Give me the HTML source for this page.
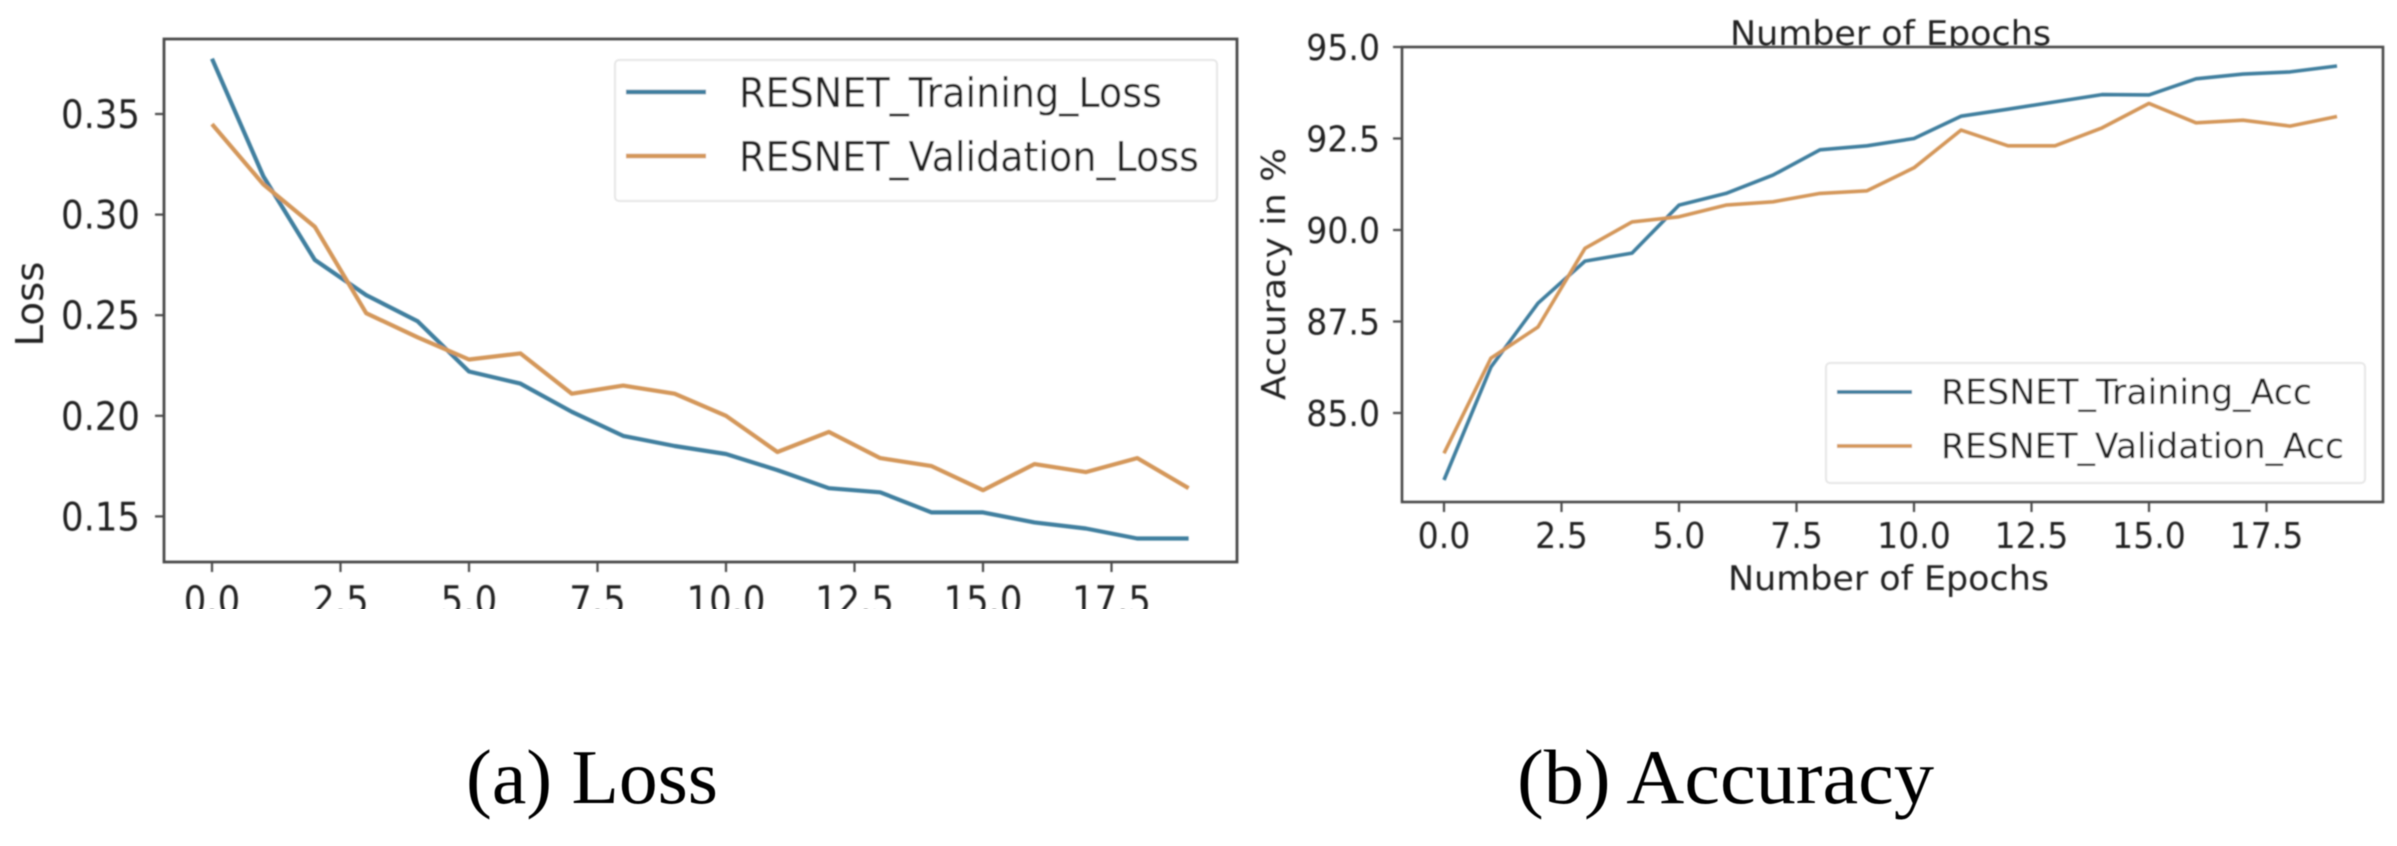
<!DOCTYPE html>
<html lang="en">
<head>
<meta charset="utf-8">
<title>ResNet loss and accuracy</title>
<style>
html,body{margin:0;padding:0;background:#fff;width:2397px;height:846px;overflow:hidden}
svg{display:block}
text{font-family:"DejaVu Sans","Liberation Sans",sans-serif;fill:#222}
.cap{font-family:"Liberation Serif",serif;fill:#000}
</style>
</head>
<body>
<svg id="fig" xmlns="http://www.w3.org/2000/svg" width="2397" height="846" viewBox="0 0 2397 846">
  <defs>
    <filter id="soft" x="-5%" y="-5%" width="110%" height="110%"><feGaussianBlur stdDeviation="0.9"/></filter>
    <filter id="softer" x="-5%" y="-5%" width="110%" height="110%"><feGaussianBlur stdDeviation="0.4"/></filter>
    <clipPath id="clip-a"><rect x="0" y="0" width="1300" height="609"/></clipPath>
    <clipPath id="clip-title"><rect x="1700" y="0" width="400" height="46"/></clipPath>
  </defs>
  <rect width="2397" height="846" fill="#fff"/>

  <g filter="url(#soft)" clip-path="url(#clip-a)">
    <g id="a-marks"></g>
    <rect x="164" y="39" width="1073" height="523" fill="none" stroke="#4a4a4a" stroke-width="2.8"/>
    <g>
      <rect x="615" y="60" width="602" height="141" rx="4" fill="#fff" fill-opacity="0.8" stroke="#e6e6e6" stroke-width="2"/>
      <line x1="626" x2="706" y1="92" y2="92" stroke="#3f7f9f" stroke-width="4.4"/>
      <text x="739" y="107" font-size="41" textLength="423" lengthAdjust="spacingAndGlyphs">RESNET_Training_Loss</text>
      <line x1="626" x2="706" y1="156" y2="156" stroke="#d4975a" stroke-width="4.4"/>
      <text x="739" y="171" font-size="41" textLength="460" lengthAdjust="spacingAndGlyphs">RESNET_Validation_Loss</text>
    </g>
    <text transform="translate(43,304) rotate(-90)" text-anchor="middle" font-size="38" textLength="85" lengthAdjust="spacingAndGlyphs">Loss</text>
  </g>

  <g filter="url(#soft)">
    <g id="b-marks"></g>
    <rect x="1402" y="47" width="981" height="455" fill="none" stroke="#4a4a4a" stroke-width="2.6"/>
    <g>
      <rect x="1826" y="363" width="539" height="120" rx="4" fill="#fff" fill-opacity="0.8" stroke="#e6e6e6" stroke-width="2"/>
      <line x1="1837" x2="1912" y1="392" y2="392" stroke="#3f7f9f" stroke-width="3.8"/>
      <text x="1941" y="404" font-size="35" textLength="371" lengthAdjust="spacingAndGlyphs">RESNET_Training_Acc</text>
      <line x1="1837" x2="1912" y1="446" y2="446" stroke="#d4975a" stroke-width="3.8"/>
      <text x="1941" y="458" font-size="35" textLength="403" lengthAdjust="spacingAndGlyphs">RESNET_Validation_Acc</text>
    </g>
    <text x="1728" y="590" font-size="34" textLength="321" lengthAdjust="spacingAndGlyphs">Number of Epochs</text>
    <g clip-path="url(#clip-title)">
      <text x="1730" y="45" font-size="34" textLength="321" lengthAdjust="spacingAndGlyphs">Number of Epochs</text>
    </g>
    <text transform="translate(1285,274) rotate(-90)" text-anchor="middle" font-size="33" textLength="252" lengthAdjust="spacingAndGlyphs">Accuracy in %</text>
  </g>

  <g filter="url(#softer)">
    <text class="cap" x="466" y="803" font-size="77" textLength="252" lengthAdjust="spacingAndGlyphs">(a) Loss</text>
    <text class="cap" x="1517" y="803" font-size="77" textLength="417" lengthAdjust="spacingAndGlyphs">(b) Accuracy</text>
  </g>
</svg>
<script>
const epochs = [0,1,2,3,4,5,6,7,8,9,10,11,12,13,14,15,16,17,18,19];
const xTickLabels = ["0.0","2.5","5.0","7.5","10.0","12.5","15.0","17.5"];
const lossYTickLabels = ["0.15","0.20","0.25","0.30","0.35"];
const accYTickLabels = ["85.0","87.5","90.0","92.5","95.0"];
const trainingLoss = [0.3775,0.319,0.2775,0.260,0.247,0.222,0.216,0.202,0.190,0.185,0.181,0.173,0.164,0.162,0.152,0.152,0.147,0.144,0.139,0.139];
const validationLoss = [0.345,0.315,0.294,0.251,0.239,0.228,0.231,0.211,0.215,0.211,0.200,0.182,0.192,0.179,0.175,0.163,0.176,0.172,0.179,0.164];
const trainingAcc = [83.17,86.26,88.0,89.15,89.37,90.68,91.0,91.5,92.19,92.3,92.5,93.11,93.3,93.5,93.7,93.69,94.13,94.26,94.32,94.48];
const validationAcc = [83.9,86.5,87.35,89.5,90.22,90.36,90.68,90.77,91.0,91.07,91.7,92.73,92.3,92.3,92.79,93.46,92.93,93.0,92.84,93.1];

const NS = "http://www.w3.org/2000/svg";
function mk(tag, parent) {
  const el = document.createElementNS(NS, tag);
  parent.appendChild(el);
  return el;
}
function squeeze(tx, factor) {
  tx.setAttribute("textLength", (tx.getComputedTextLength() * factor).toFixed(1));
  tx.setAttribute("lengthAdjust", "spacingAndGlyphs");
}
function drawChart(opt) {
  const g = document.getElementById(opt.target);
  opt.yLabels.forEach(function (lab) {
    const y = opt.yScale(parseFloat(lab));
    const t = mk("line", g);
    
    
    t.setAttribute("x1", opt.left - 9); t.setAttribute("x2", opt.left);
    t.setAttribute("y1", y); t.setAttribute("y2", y);
    t.setAttribute("stroke", "#4a4a4a"); t.setAttribute("stroke-width", "2.2");
    const tx = mk("text", g);
    
    
    tx.setAttribute("x", opt.yLabelRight);
    tx.setAttribute("y", y + opt.yLabelDy);
    tx.setAttribute("text-anchor", "end");
    tx.setAttribute("font-size", opt.fontSize);
    tx.textContent = lab;
    squeeze(tx, opt.squeeze);
  });
  xTickLabels.forEach(function (lab) {
    const x = opt.xScale(parseFloat(lab));
    const t = mk("line", g);
    
    
    t.setAttribute("x1", x); t.setAttribute("x2", x);
    t.setAttribute("y1", opt.bottom); t.setAttribute("y2", opt.bottom + 10);
    t.setAttribute("stroke", "#4a4a4a"); t.setAttribute("stroke-width", "2.2");
    const tx = mk("text", g);
    
    
    tx.setAttribute("x", x);
    tx.setAttribute("y", opt.xLabelY);
    tx.setAttribute("text-anchor", "middle");
    tx.setAttribute("font-size", opt.fontSize);
    tx.textContent = lab;
    squeeze(tx, opt.squeeze);
  });
  opt.series.forEach(function (s) {
    const p = mk("polyline", g);
    
    
    p.setAttribute("points", s.values.map(function (v, i) {
      return opt.xScale(epochs[i]).toFixed(1) + "," + opt.yScale(v).toFixed(1);
    }).join(" "));
    p.setAttribute("fill", "none");
    p.setAttribute("stroke", s.color);
    p.setAttribute("stroke-width", opt.lineWidth);
    p.setAttribute("stroke-linejoin", "round");
  });
}
drawChart({
  target: "a-marks", left: 164, bottom: 562, yLabelRight: 140, yLabelDy: 14, xLabelY: 614, fontSize: 39, squeeze: 0.91, lineWidth: 4.2,
  xScale: function (v) { return 212 + v * 51.4; },
  yScale: function (v) { return 114 + (0.35 - v) * 2012; },
  yLabels: lossYTickLabels,
  series: [
    { name: "training-loss-line", values: trainingLoss, color: "#3f7f9f" },
    { name: "validation-loss-line", values: validationLoss, color: "#d4975a" }
  ]
});
drawChart({
  target: "b-marks", left: 1402, bottom: 502, yLabelRight: 1380, yLabelDy: 13, xLabelY: 548, fontSize: 36, squeeze: 0.92, lineWidth: 3.6,
  xScale: function (v) { return 1444 + v * 47; },
  yScale: function (v) { return 413 + (85 - v) * 36.6; },
  yLabels: accYTickLabels,
  series: [
    { name: "training-accuracy-line", values: trainingAcc, color: "#3f7f9f" },
    { name: "validation-accuracy-line", values: validationAcc, color: "#d4975a" }
  ]
});
</script>
</body>
</html>
